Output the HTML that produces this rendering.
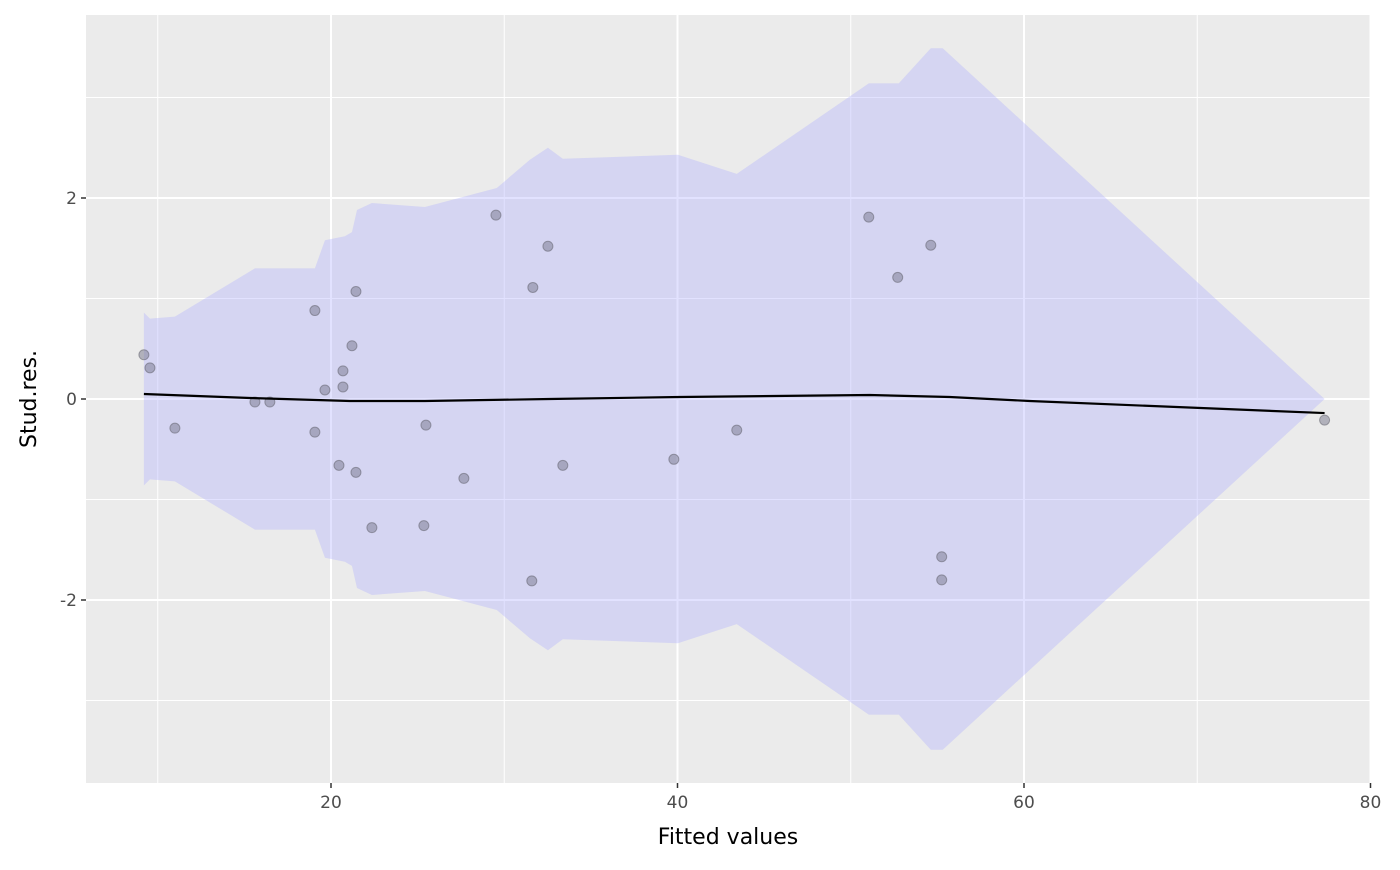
<!DOCTYPE html>
<html><head><meta charset="utf-8"><style>
body{margin:0;background:#fff;font-family:"DejaVu Sans","Liberation Sans",sans-serif}
</style></head><body>
<svg id="chart" width="1400" height="866" xmlns="http://www.w3.org/2000/svg" font-family="DejaVu Sans, Liberation Sans, sans-serif"></svg>
<script>
const bandX=[9.20,9.55,10.99,15.61,19.07,19.65,20.80,21.21,21.50,22.36,25.42,29.57,31.48,32.52,33.38,40.02,43.42,51.04,52.77,54.62,55.31,77.35];
const bandHalf=[0.86,0.80,0.82,1.30,1.30,1.58,1.62,1.66,1.88,1.95,1.91,2.10,2.38,2.50,2.39,2.43,2.24,3.14,3.14,3.49,3.49,0];
const ptX=[9.20,9.55,10.99,15.61,16.47,19.07,19.07,19.65,20.46,20.69,20.69,21.21,21.44,21.44,22.36,25.36,25.48,27.67,29.52,31.59,31.65,32.52,33.38,39.79,43.42,51.04,52.71,54.62,55.25,55.25,77.35];
const ptY=[0.44,0.31,-0.29,-0.03,-0.03,0.88,-0.33,0.09,-0.66,0.28,0.12,0.53,1.07,-0.73,-1.28,-1.26,-0.26,-0.79,1.83,-1.81,1.11,1.52,-0.66,-0.60,-0.31,1.81,1.21,1.53,-1.57,-1.80,-0.21];
const smX=[9.20,15.32,21.09,25.42,32.63,40.13,51.1,55.71,60.33,77.35];
const smY=[0.05,0.01,-0.02,-0.02,0,0.02,0.04,0.02,-0.02,-0.14];
const xTicks=[20,40,60,80], xMinor=[10,30,50,70];
const yTicks=[-2,0,2], yMinor=[-3,-1,1,3];
const L=86,R=1370,T=15,B=783;
const sx=v=>331+(v-20)*17.325, sy=v=>399-v*100.5;
const svg=document.getElementById('chart');const NS='http://www.w3.org/2000/svg';
function mk(t,a,p){const e=document.createElementNS(NS,t);for(const k in a)e.setAttribute(k,a[k]);(p||svg).appendChild(e);return e;}
let e=mk('rect',{x:L,y:T,width:R-L,height:B-T,fill:'#ebebeb'});


xMinor.forEach(v=>{e=mk('line',{x1:sx(v),x2:sx(v),y1:T,y2:B,stroke:'#fff','stroke-width':1});

});
yMinor.forEach(v=>{e=mk('line',{x1:L,x2:R,y1:sy(v),y2:sy(v),stroke:'#fff','stroke-width':1});

});
xTicks.forEach(v=>{e=mk('line',{x1:sx(v),x2:sx(v),y1:T,y2:B,stroke:'#fff','stroke-width':2});


e=mk('line',{x1:sx(v),x2:sx(v),y1:B,y2:B+5,stroke:'#333','stroke-width':1.5});


e=mk('text',{x:sx(v),y:B+25,'text-anchor':'middle','font-size':17,fill:'#4d4d4d'});e.textContent=v;

});
yTicks.forEach(v=>{e=mk('line',{x1:L,x2:R,y1:sy(v),y2:sy(v),stroke:'#fff','stroke-width':2});


e=mk('line',{x1:L-5,x2:L,y1:sy(v),y2:sy(v),stroke:'#333','stroke-width':1.5});


e=mk('text',{x:L-9,y:sy(v)+6,'text-anchor':'end','font-size':17,fill:'#4d4d4d'});e.textContent=v;

});
let pts=bandX.map((x,i)=>sx(x)+','+sy(bandHalf[i]));
for(let i=bandX.length-1;i>=0;i--)pts.push(sx(bandX[i])+','+sy(-bandHalf[i]));
e=mk('polygon',{points:pts.join(' '),fill:'rgba(170,170,255,0.34)'});


ptX.forEach((x,i)=>{e=mk('circle',{cx:sx(x),cy:sy(ptY[i]),r:5,fill:'rgba(120,120,140,0.5)',stroke:'rgba(90,90,100,0.5)','stroke-width':1});

});
e=mk('path',{d:'M'+smX.map((x,i)=>sx(x)+' '+sy(smY[i])).join(' L'),fill:'none',stroke:'#000','stroke-width':2.2});


e=mk('text',{x:(L+R)/2,y:844,'text-anchor':'middle','font-size':22,fill:'#000'});e.textContent='Fitted values';


e=mk('text',{x:0,y:0,'text-anchor':'middle','font-size':22,fill:'#000',transform:'translate(36,399) rotate(-90)'});e.textContent='Stud.res.';


</script>
</body></html>
